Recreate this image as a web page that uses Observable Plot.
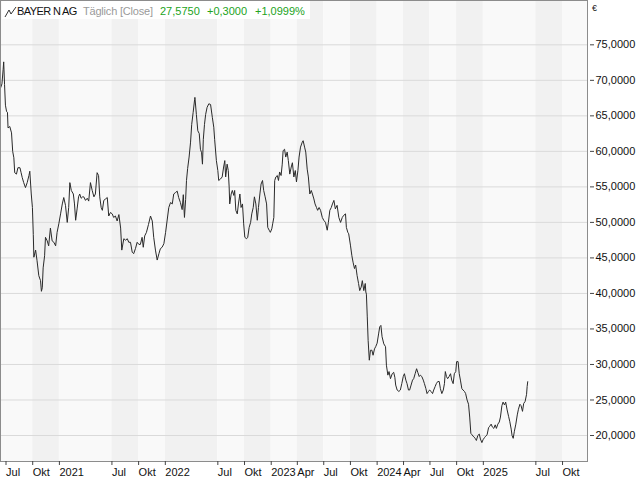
<!DOCTYPE html>
<html>
<head>
<meta charset="utf-8">
<script src="https://cdn.jsdelivr.net/npm/d3@7"></script>
<script src="https://cdn.jsdelivr.net/npm/@observablehq/plot@0.6"></script>
<style>
  html, body { margin: 0; padding: 0; background: #fff; }
  #wrap { position: relative; width: 640px; height: 480px; font-family: "Liberation Sans", Arial, sans-serif; }
  #title { position: absolute; left: 2px; top: 1px; width: 308px; height: 18px; background: #fff; font-size: 11px; }
  #title span { position: absolute; top: 5px; line-height: 11px; white-space: nowrap; }
  #title svg { position: absolute; left: 2px; top: 5px; }
  #euro { position: absolute; left: 592px; top: 4px; font-size: 9px; line-height: 9px; color: #222; }
</style>
</head>
<body>
<div id="wrap">
  <div id="chart"></div>
  <div id="title">
    <svg width="13" height="12" viewBox="0 0 13 12"><polyline points="1,11 5,4 7,8 12,1" fill="none" stroke="#333" stroke-width="1"/></svg>
    <span id="tName" style="left:15px;color:#111;letter-spacing:-0.6px"></span>
    <span id="tMode" style="left:81px;color:#9a9a9a;letter-spacing:-0.2px"></span>
    <span id="tLast" style="left:158px;color:#22a322"></span>
    <span id="tChg" style="left:205px;color:#22a322"></span>
    <span id="tPct" style="left:253px;color:#22a322"></span>
  </div>
  <div id="euro">€</div>
</div>
<script>
// ---- Header texts ----
const titleName = "BAYER N AG";
const titleMode = "Täglich [Close]";
const lastPrice = "27,5750";
const change = "+0,3000";
const changePct = "+1,0999%";

// ---- Axis ticks ----
const yTicks = [20, 25, 30, 35, 40, 45, 50, 55, 60, 65, 70, 75];
const xTickDates = ["2020-07-01","2020-10-01","2021-01-01","2021-07-01","2021-10-01","2022-01-01","2022-07-01","2022-10-01","2023-01-01","2023-04-01","2023-07-01","2023-10-01","2024-01-01","2024-04-01","2024-07-01","2024-10-01","2025-01-01","2025-07-01","2025-10-01"];
const xTickLabels = ["Jul","Okt","2021","Jul","Okt","2022","Jul","Okt","2023","Apr","Jul","Okt","2024","Apr","Jul","Okt","2025","Jul","Okt"];
const xDomain = ["2020-06-12", "2025-12-26"];
const yDomain = [16.34, 81.24];

// ---- Daily close (EUR) ----
const close2020 = [["2020-06-12",68.9],["2020-06-17",69.5],["2020-06-21",71.5],["2020-06-23",72.6],["2020-06-26",69.4],["2020-06-29",66.5],["2020-07-03",65.6],["2020-07-06",65.5],["2020-07-08",63.3],["2020-07-14",63.5],["2020-07-20",62.6],["2020-07-24",60.0],["2020-07-28",59.1],["2020-07-31",57.0],["2020-08-06",56.8],["2020-08-11",57.7],["2020-08-18",57.7],["2020-08-22",57.0],["2020-08-26",56.3],["2020-08-31",55.6],["2020-09-06",54.9],["2020-09-12",55.6],["2020-09-18",56.6],["2020-09-21",57.2],["2020-09-26",54.0],["2020-09-30",52.1],["2020-10-03",48.3],["2020-10-05",45.1],["2020-10-11",46.1],["2020-10-16",44.6],["2020-10-22",42.5],["2020-10-28",41.8],["2020-10-31",40.3],["2020-11-03",40.8],["2020-11-06",43.6],["2020-11-11",45.3],["2020-11-14",47.9],["2020-11-20",47.4],["2020-11-25",46.7],["2020-12-01",49.2],["2020-12-07",47.4],["2020-12-13",47.2],["2020-12-19",46.7],["2020-12-24",48.6],["2020-12-30",49.8]];
const close2021 = [["2021-01-05",51.2],["2021-01-11",52.6],["2021-01-16",53.5],["2021-01-22",52.4],["2021-01-28",50.0],["2021-02-02",52.1],["2021-02-06",55.6],["2021-02-11",54.5],["2021-02-18",54.0],["2021-02-22",52.6],["2021-02-26",50.3],["2021-03-03",51.9],["2021-03-08",53.6],["2021-03-12",54.0],["2021-03-17",53.4],["2021-03-22",53.6],["2021-03-26",53.6],["2021-04-01",53.1],["2021-04-07",53.4],["2021-04-12",53.0],["2021-04-18",55.6],["2021-04-24",54.5],["2021-04-30",53.6],["2021-05-05",54.0],["2021-05-11",57.0],["2021-05-16",56.6],["2021-05-20",53.6],["2021-05-25",52.1],["2021-05-29",51.7],["2021-06-03",53.1],["2021-06-09",53.3],["2021-06-15",53.5],["2021-06-20",50.9],["2021-06-26",51.4],["2021-07-02",51.2],["2021-07-07",50.7],["2021-07-13",50.9],["2021-07-19",50.2],["2021-07-25",51.1],["2021-07-31",49.2],["2021-08-04",46.1],["2021-08-11",47.7],["2021-08-17",47.5],["2021-08-23",47.7],["2021-08-28",47.2],["2021-09-03",47.2],["2021-09-09",45.8],["2021-09-14",45.6],["2021-09-20",46.3],["2021-09-26",47.2],["2021-10-02",46.9],["2021-10-07",46.9],["2021-10-13",47.9],["2021-10-17",46.5],["2021-10-22",48.1],["2021-10-28",48.6],["2021-11-04",49.7],["2021-11-11",50.9],["2021-11-17",50.2],["2021-11-22",47.9],["2021-11-28",46.1],["2021-12-04",44.7],["2021-12-10",45.6],["2021-12-15",46.3],["2021-12-21",46.5],["2021-12-27",47.0]];
const close2022 = [["2022-01-02",48.6],["2022-01-07",50.2],["2022-01-13",52.1],["2022-01-19",52.8],["2022-01-25",52.6],["2022-01-30",54.0],["2022-02-05",54.2],["2022-02-11",54.4],["2022-02-16",53.5],["2022-02-22",52.8],["2022-02-28",51.8],["2022-03-04",53.9],["2022-03-08",50.7],["2022-03-12",53.2],["2022-03-15",55.9],["2022-03-19",57.6],["2022-03-24",59.2],["2022-03-29",61.3],["2022-04-02",63.8],["2022-04-07",65.5],["2022-04-12",67.3],["2022-04-13",67.6],["2022-04-18",65.2],["2022-04-23",62.9],["2022-04-28",62.5],["2022-05-02",60.3],["2022-05-06",59.8],["2022-05-09",58.2],["2022-05-12",61.7],["2022-05-16",63.8],["2022-05-20",65.2],["2022-05-25",66.2],["2022-05-31",66.7],["2022-06-06",66.6],["2022-06-12",64.8],["2022-06-17",63.4],["2022-06-20",61.7],["2022-06-26",58.7],["2022-07-01",57.3],["2022-07-04",55.9],["2022-07-10",56.1],["2022-07-16",56.4],["2022-07-21",57.8],["2022-07-25",58.7],["2022-07-28",56.4],["2022-08-02",58.2],["2022-08-06",57.3],["2022-08-09",55.0],["2022-08-11",52.6],["2022-08-16",54.0],["2022-08-20",54.5],["2022-08-25",53.8],["2022-08-28",54.5],["2022-09-01",51.7],["2022-09-06",51.2],["2022-09-10",52.6],["2022-09-15",54.0],["2022-09-19",52.1],["2022-09-24",52.6],["2022-09-28",49.8],["2022-10-02",47.9],["2022-10-08",47.7],["2022-10-12",47.9],["2022-10-17",49.3],["2022-10-22",50.0],["2022-10-26",51.2],["2022-10-31",52.1],["2022-11-04",53.6],["2022-11-09",52.6],["2022-11-14",50.3],["2022-11-18",52.1],["2022-11-23",54.0],["2022-11-27",55.4],["2022-12-02",55.9],["2022-12-06",54.5],["2022-12-11",53.6],["2022-12-16",52.6],["2022-12-20",49.3],["2022-12-25",48.9],["2022-12-29",48.6]];
const close2023 = [["2023-01-03",49.1],["2023-01-06",49.8],["2023-01-10",50.7],["2023-01-13",55.9],["2023-01-17",56.4],["2023-01-22",56.6],["2023-01-26",55.9],["2023-01-30",57.1],["2023-02-04",56.6],["2023-02-08",58.2],["2023-02-11",60.1],["2023-02-16",60.3],["2023-02-20",59.2],["2023-02-25",59.9],["2023-03-01",58.7],["2023-03-06",56.8],["2023-03-11",57.8],["2023-03-15",58.4],["2023-03-20",56.4],["2023-03-25",57.3],["2023-03-29",55.7],["2023-04-03",57.3],["2023-04-07",59.2],["2023-04-12",60.6],["2023-04-18",61.3],["2023-04-21",61.5],["2023-04-26",60.6],["2023-04-30",59.9],["2023-05-05",57.5],["2023-05-09",56.4],["2023-05-14",54.0],["2023-05-19",54.5],["2023-05-23",54.0],["2023-05-28",53.3],["2023-06-01",52.6],["2023-06-06",52.1],["2023-06-10",51.7],["2023-06-15",52.1],["2023-06-20",51.7],["2023-06-26",50.7],["2023-07-01",50.3],["2023-07-07",50.0],["2023-07-13",48.9],["2023-07-17",50.0],["2023-07-22",51.7],["2023-07-27",52.1],["2023-07-31",52.6],["2023-08-05",53.1],["2023-08-10",51.9],["2023-08-16",52.4],["2023-08-22",50.7],["2023-08-28",50.0],["2023-09-03",50.7],["2023-09-08",51.0],["2023-09-14",51.2],["2023-09-17",49.3],["2023-09-22",48.6],["2023-09-25",48.4],["2023-10-01",46.8],["2023-10-06",45.3],["2023-10-10",44.4],["2023-10-15",43.5],["2023-10-19",44.0],["2023-10-24",42.5],["2023-10-29",41.4],["2023-11-02",40.4],["2023-11-07",40.9],["2023-11-11",41.8],["2023-11-16",40.4],["2023-11-21",41.4],["2023-11-23",40.2],["2023-11-25",39.9],["2023-11-28",36.7],["2023-12-01",33.4],["2023-12-05",30.6],["2023-12-09",32.0],["2023-12-14",32.0],["2023-12-18",31.3],["2023-12-23",32.2],["2023-12-27",32.5]];
const close2024 = [["2024-01-01",33.0],["2024-01-06",34.3],["2024-01-10",35.3],["2024-01-14",35.5],["2024-01-18",33.9],["2024-01-24",32.9],["2024-01-30",32.5],["2024-02-02",29.9],["2024-02-07",28.5],["2024-02-11",29.0],["2024-02-16",28.0],["2024-02-22",28.7],["2024-02-27",28.9],["2024-03-02",28.2],["2024-03-05",27.1],["2024-03-10",26.4],["2024-03-16",26.2],["2024-03-21",26.4],["2024-03-26",27.3],["2024-03-31",28.3],["2024-04-04",28.7],["2024-04-09",27.8],["2024-04-13",27.3],["2024-04-18",26.4],["2024-04-22",26.4],["2024-04-27",27.1],["2024-05-02",27.8],["2024-05-06",28.0],["2024-05-11",28.7],["2024-05-16",29.4],["2024-05-20",28.9],["2024-05-25",28.3],["2024-05-29",28.5],["2024-06-03",28.3],["2024-06-08",27.8],["2024-06-12",27.3],["2024-06-17",26.6],["2024-06-21",25.9],["2024-06-26",26.2],["2024-06-30",26.4],["2024-07-05",26.2],["2024-07-10",25.9],["2024-07-14",26.4],["2024-07-19",26.9],["2024-07-23",27.3],["2024-07-28",27.6],["2024-08-02",27.6],["2024-08-06",26.6],["2024-08-11",25.9],["2024-08-16",26.4],["2024-08-20",27.3],["2024-08-23",29.0],["2024-08-27",28.3],["2024-08-31",28.0],["2024-09-05",28.3],["2024-09-10",28.7],["2024-09-14",27.8],["2024-09-19",27.3],["2024-09-23",28.7],["2024-09-28",29.0],["2024-10-01",30.4],["2024-10-06",30.4],["2024-10-10",28.7],["2024-10-14",27.8],["2024-10-19",26.6],["2024-10-23",26.4],["2024-10-28",26.2],["2024-11-01",25.9],["2024-11-06",25.0],["2024-11-11",24.4],["2024-11-15",22.6],["2024-11-19",20.3],["2024-11-23",20.1],["2024-11-29",19.8],["2024-12-04",19.6],["2024-12-08",19.3],["2024-12-13",20.0],["2024-12-18",20.2],["2024-12-22",19.5],["2024-12-27",19.0],["2024-12-31",19.4]];
const close2025 = [["2025-01-05",19.7],["2025-01-09",19.9],["2025-01-14",20.1],["2025-01-19",21.1],["2025-01-23",21.3],["2025-01-28",21.6],["2025-02-01",21.2],["2025-02-06",21.0],["2025-02-11",21.5],["2025-02-15",21.0],["2025-02-20",21.6],["2025-02-25",21.9],["2025-03-01",22.6],["2025-03-06",24.2],["2025-03-10",24.7],["2025-03-15",24.3],["2025-03-19",24.7],["2025-03-24",23.6],["2025-03-29",22.7],["2025-04-02",22.0],["2025-04-07",20.9],["2025-04-10",20.0],["2025-04-14",19.6],["2025-04-18",20.6],["2025-04-23",21.6],["2025-04-28",22.9],["2025-05-02",23.7],["2025-05-07",24.4],["2025-05-11",24.2],["2025-05-16",23.4],["2025-05-20",24.5],["2025-05-25",24.8],["2025-05-30",25.8],["2025-06-01",26.9],["2025-06-03",27.575]];

// ---- build table ----
const series = [...close2020, ...close2021, ...close2022, ...close2023, ...close2024, ...close2025]
  .map(([d, v]) => ({date: new Date(d), close: v}));

const tickDates = xTickDates.map(d => new Date(d));
const labelOf = new Map(tickDates.map((d, i) => [+d, xTickLabels[i]]));
const bounds = [new Date(xDomain[0]), ...tickDates, new Date(xDomain[1])];
const bands = d3.pairs(bounds).map(([a, b], j) => ({
  x1: a, x2: b, shade: j === 0 ? "light" : ((j - 1) % 2 === 0 ? "light" : "dark")
}));

document.getElementById("tName").textContent = titleName;
document.getElementById("tMode").textContent = titleMode;
document.getElementById("tLast").textContent = lastPrice;
document.getElementById("tChg").textContent = change;
document.getElementById("tPct").textContent = changePct;

const fmtY = d => d.toFixed(4).replace(".", ",");

const chart = Plot.plot({
  width: 640,
  height: 480,
  marginLeft: 0,
  marginRight: 53,
  marginTop: 0,
  marginBottom: 19,
  style: {fontFamily: "'Liberation Sans', Arial, sans-serif", fontSize: "11px", background: "#fff", color: "#111"},
  x: {type: "utc", domain: xDomain.map(d => new Date(d)), axis: null},
  y: {domain: yDomain, axis: null},
  marks: [
    Plot.rect(bands, {x1: "x1", x2: "x2", fill: d => d.shade === "light" ? "#f9f9f9" : "#f1f1f1"}),
    Plot.ruleY(yTicks, {stroke: "#dadada", strokeWidth: 1}),
    Plot.line(series, {x: "date", y: "close", stroke: "#2a2a2a", strokeWidth: 1}),
    Plot.frame({stroke: "#8c8c8c"}),
    Plot.axisY(yTicks, {anchor: "right", label: null, tickSize: 4, dx: 2, tickPadding: 2, tickFormat: fmtY, stroke: "#444", fill: "#111", fontSize: 11}),
    Plot.axisX(tickDates, {anchor: "bottom", label: null, tickSize: 4, tickPadding: 3, tickFormat: d => labelOf.get(+d), textAnchor: "start", dx: 0, stroke: "#444", fill: "#111", fontSize: 11})
  ]
});
document.getElementById("chart").appendChild(chart);
</script>
</body>
</html>
